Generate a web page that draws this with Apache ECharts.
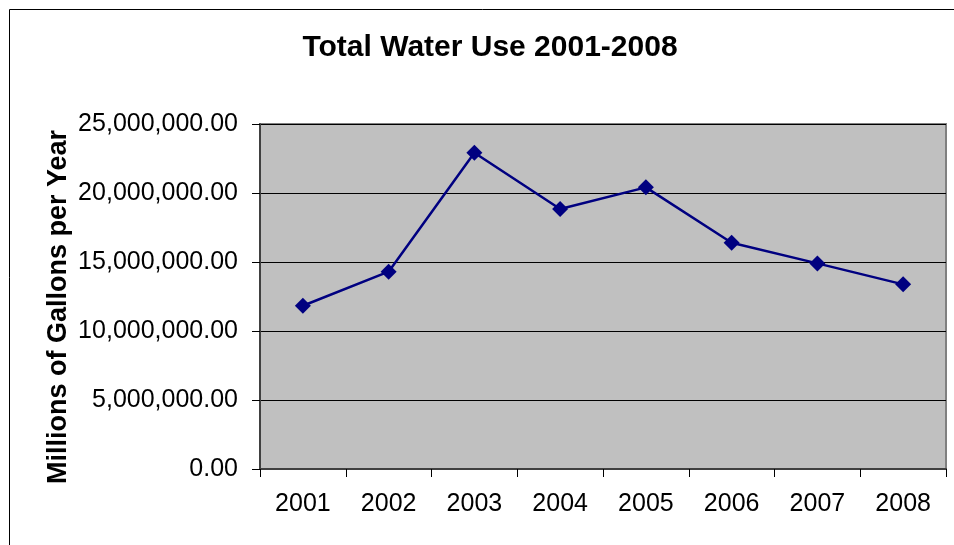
<!DOCTYPE html>
<html>
<head>
<meta charset="utf-8">
<script src="https://cdn.jsdelivr.net/npm/echarts@6/dist/echarts.min.js"></script>
<style>
html,body{margin:0;padding:0;background:#fff;}
#chart{width:954px;height:545px;}
</style>
</head>
<body>
<div id="chart"></div>
<script>
const years = ['2001','2002','2003','2004','2005','2006','2007','2008'];
const waterUse = [11830000, 14300000, 22920000, 18840000, 20410000, 16400000, 14900000, 13380000];
const yTicks = { min: 0, max: 25000000, interval: 5000000 };

function fmt(v){
  return Number(v).toLocaleString('en-US',{minimumFractionDigits:2, maximumFractionDigits:2});
}

const chart = echarts.init(document.getElementById('chart'), null, {renderer:'canvas'});
const FONT = '"Liberation Sans", Arial, sans-serif';
chart.setOption({
  animation:false,
  backgroundColor:'#ffffff',
  title:{
    text:'Total Water Use 2001-2008',
    left:485, top:28, textAlign:'center',
    textStyle:{fontFamily:FONT, fontSize:30, fontWeight:'bold', color:'#000'}
  },
  graphic:[{
    type:'rect', silent:true, z:-1,
    shape:{x:9.5, y:9.5, width:1200, height:1200},
    style:{fill:'none', stroke:'#000', lineWidth:1}
  },{
    type:'text', silent:true, x:59, y:307, rotation:Math.PI/2,
    style:{text:'Millions of Gallons per Year', fontFamily:FONT, fontSize:27, fontWeight:'bold', fill:'#000', align:'center', verticalAlign:'middle'}
  }],
  grid:{left:260, right:8, top:124, bottom:76, show:true, backgroundColor:'#c0c0c0', borderColor:'#808080', borderWidth:2},
  xAxis:{
    type:'category', data:years, boundaryGap:true,
    axisLine:{lineStyle:{color:'#404040', width:2}},
    axisTick:{show:true, length:8, inside:false, alignWithLabel:false, lineStyle:{color:'#000', width:1}},
    axisLabel:{fontFamily:FONT, fontSize:25, color:'#000', margin:23},
    splitLine:{show:false}
  },
  yAxis:{
    type:'value', min:yTicks.min, max:yTicks.max, interval:yTicks.interval,
    axisLine:{show:true, lineStyle:{color:'#404040', width:2}},
    axisTick:{show:true, length:8, lineStyle:{color:'#000', width:1}},
    axisLabel:{fontFamily:FONT, fontSize:25, color:'#000', margin:22, formatter:fmt},
    splitLine:{show:true, lineStyle:{color:'#000', width:1}}
  },
  series:[{
    type:'line', data:waterUse,
    symbol:'diamond', symbolSize:16,
    lineStyle:{color:'#000080', width:2.5},
    itemStyle:{color:'#000080'}
  }]
});
</script>
</body>
</html>
